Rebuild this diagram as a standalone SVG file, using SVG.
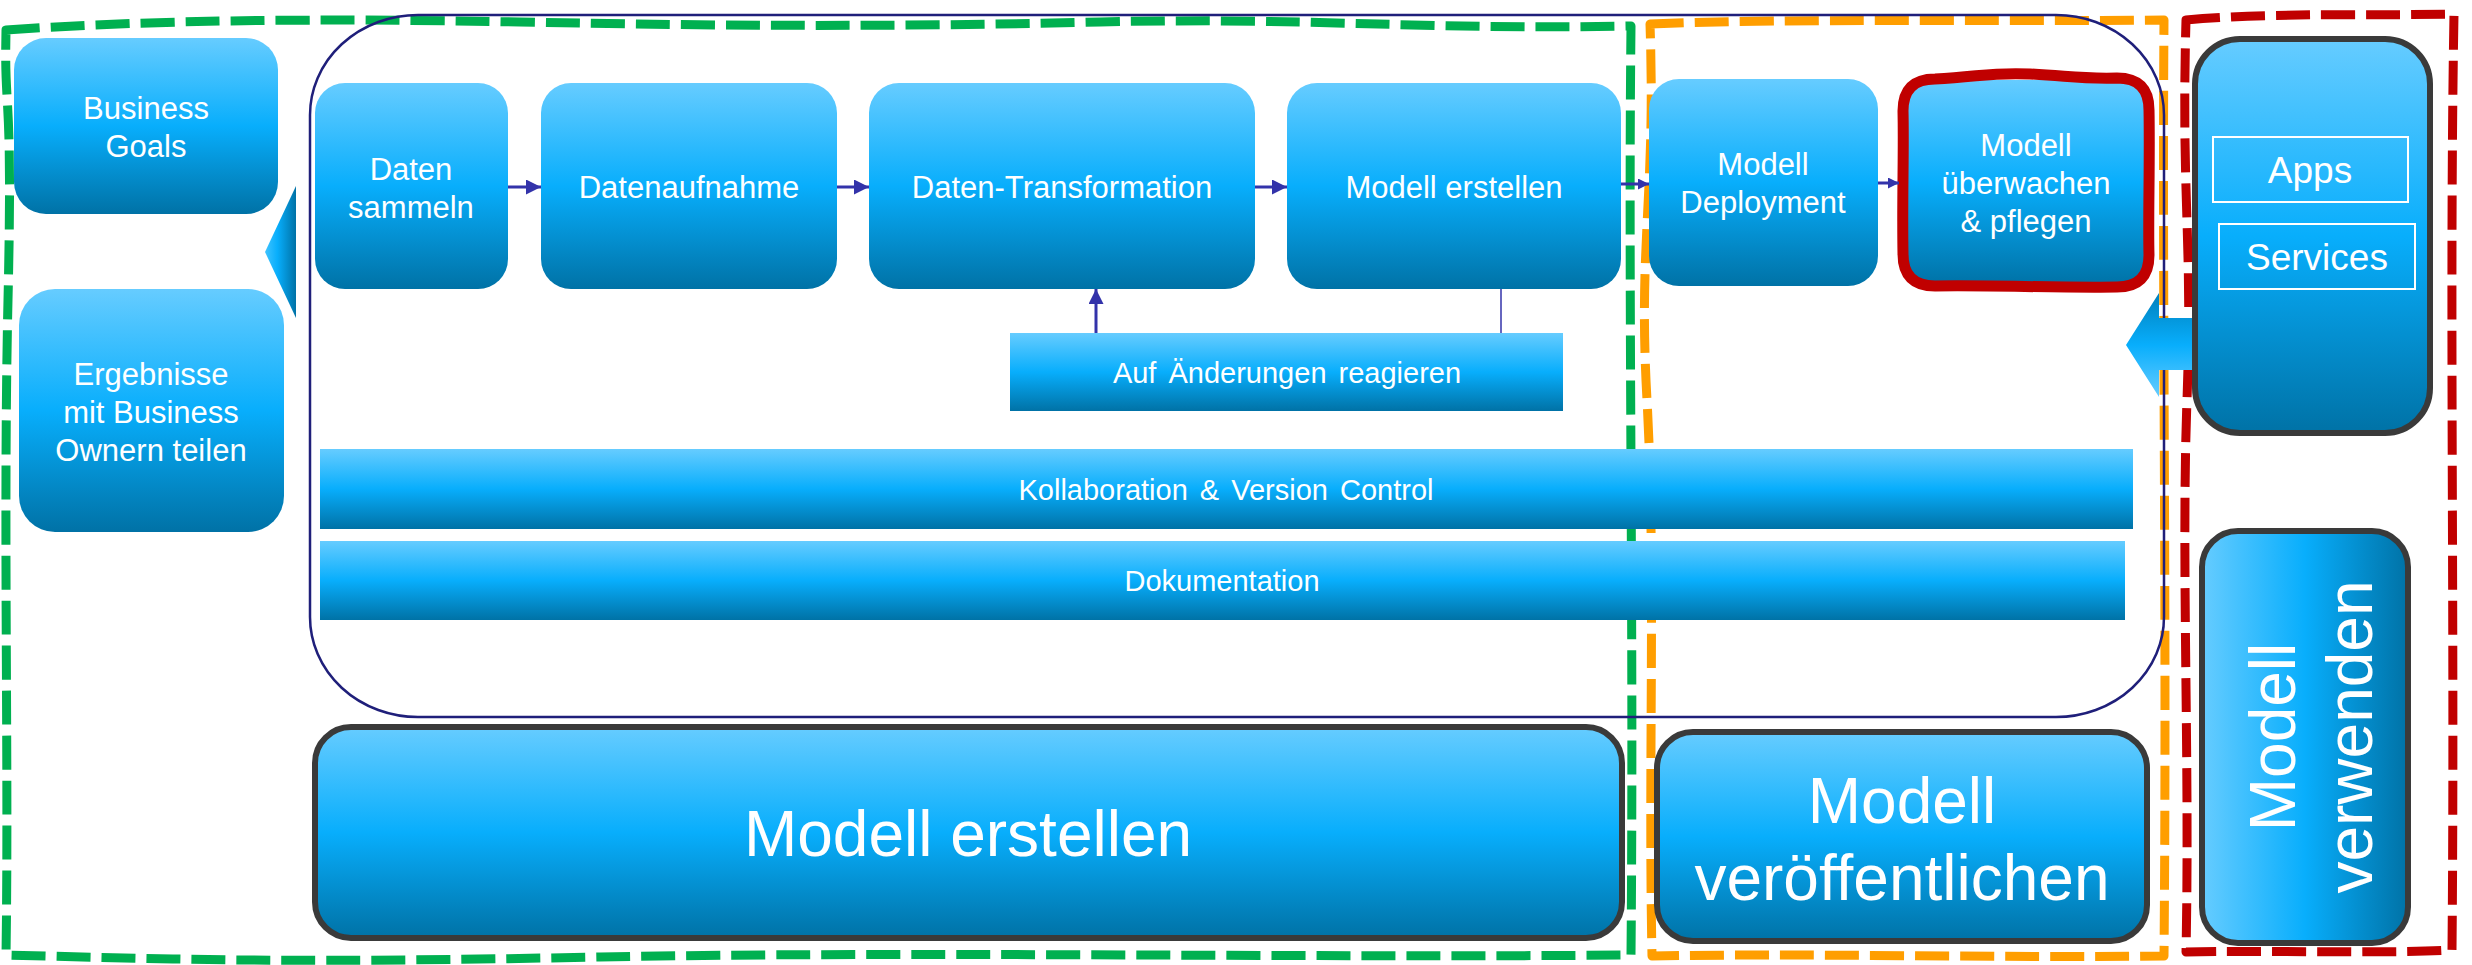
<svg xmlns="http://www.w3.org/2000/svg" width="2472" height="965" viewBox="0 0 2472 965">
<defs>
<linearGradient id="gv" x1="0" y1="0" x2="0" y2="1">
<stop offset="0" stop-color="#66CCFF"/>
<stop offset="0.5" stop-color="#08AEFC"/>
<stop offset="1" stop-color="#0072A6"/>
</linearGradient>
<linearGradient id="gh" x1="0" y1="0" x2="1" y2="0">
<stop offset="0" stop-color="#66CCFF"/>
<stop offset="0.5" stop-color="#08AEFC"/>
<stop offset="1" stop-color="#0072A6"/>
</linearGradient>
<linearGradient id="gtri" x1="0" y1="0" x2="1" y2="0">
<stop offset="0" stop-color="#40C4FF"/>
<stop offset="0.4" stop-color="#08AEFC"/>
<stop offset="1" stop-color="#0072A6"/>
</linearGradient>
<linearGradient id="garr" x1="0" y1="0" x2="0" y2="1">
<stop offset="0" stop-color="#0080BC"/>
<stop offset="0.5" stop-color="#08AEFC"/>
<stop offset="1" stop-color="#66CCFF"/>
</linearGradient>
<marker id="ah" viewBox="0 0 10 10" refX="10" refY="5" markerWidth="15" markerHeight="15" orient="auto" markerUnits="userSpaceOnUse">
<path d="M0,0 L10,5 L0,10 Z" fill="#3333AA"/>
</marker>
<marker id="ahs" viewBox="0 0 10 10" refX="10" refY="5" markerWidth="11" markerHeight="11" orient="auto" markerUnits="userSpaceOnUse">
<path d="M0,0 L10,5 L0,10 Z" fill="#3333AA"/>
</marker>
<style>
.box{fill:url(#gv);}
.dk{fill:url(#gv);stroke:#3A3A3A;stroke-width:6;}
.t{font-family:"Liberation Sans",Arial,sans-serif;fill:#FFFFFF;text-anchor:middle;}
.s31{font-size:31px;}
.s29{font-size:29px;}
.s36{font-size:37px;}
.s64{font-size:64px;}
.dash{fill:none;stroke-width:9;stroke-dasharray:34 11;stroke-linejoin:round;}
.conn{stroke:#3333AA;stroke-width:3;fill:none;}
</style>
</defs>

<g id="frames">
<path class="dash" stroke="#00B050" d="M6,30 C150,20 320,18 520,22 S 900,27 1100,22 S 1420,30 1631,26 C1628,300 1634,620 1631,955 C1300,958 900,951 600,957 S 200,960 6,955 C9,760 3,520 8,300 S 4,120 6,30 Z"/>
<path class="dash" stroke="#FF9E00" d="M1650,24 C1800,18 1980,22 2164,20 C2162,300 2167,620 2164,956 C2000,958 1800,953 1652,956 C1648,760 1656,560 1647,400 S 1656,200 1650,24 Z"/>
<path class="dash" stroke="#C00000" d="M2186,20 C2280,12 2370,16 2454,14 C2449,300 2455,620 2452,950 C2380,954 2260,950 2186,952 C2190,760 2181,560 2187,400 S 2181,200 2186,20 Z"/>
</g>

<g id="container">
<rect x="310" y="15" width="1854" height="702" rx="108" ry="100" fill="none" stroke="#1F1F7A" stroke-width="2.5"/>
</g>

<g id="business-goals">
<rect class="box" x="14" y="38" width="264" height="176" rx="32"/>
<text class="t s31" x="146" y="119">Business</text>
<text class="t s31" x="146" y="157">Goals</text>
</g>

<g id="ergebnisse">
<rect class="box" x="19" y="289" width="265" height="243" rx="36"/>
<text class="t s31" x="151" y="385">Ergebnisse</text>
<text class="t s31" x="151" y="423">mit Business</text>
<text class="t s31" x="151" y="461">Ownern teilen</text>
</g>

<g id="left-arrow">
<polygon points="296,186 265,252 296,318" fill="url(#gtri)"/>
</g>

<g id="daten-sammeln">
<rect class="box" x="315" y="83" width="193" height="206" rx="30"/>
<text class="t s31" x="411" y="180">Daten</text>
<text class="t s31" x="411" y="218">sammeln</text>
</g>

<g id="datenaufnahme">
<rect class="box" x="541" y="83" width="296" height="206" rx="30"/>
<text class="t s31" x="689" y="198">Datenaufnahme</text>
</g>

<g id="daten-transformation">
<rect class="box" x="869" y="83" width="386" height="206" rx="30"/>
<text class="t s31" x="1062" y="198">Daten-Transformation</text>
</g>

<g id="modell-erstellen-step">
<rect class="box" x="1287" y="83" width="334" height="206" rx="30"/>
<text class="t s31" x="1454" y="198">Modell erstellen</text>
</g>

<g id="modell-deployment">
<rect class="box" x="1649" y="79" width="229" height="207" rx="30"/>
<text class="t s31" x="1763" y="175">Modell</text>
<text class="t s31" x="1763" y="213">Deployment</text>
</g>

<g id="modell-ueberwachen">
<rect class="box" x="1905" y="80" width="242" height="205" rx="30"/>
<path d="M1935,79 C1980,77 1990,72 2030,74 S 2080,79 2117,78 Q2149,78 2149,110 C2150,160 2148,220 2149,255 Q2149,287 2117,287 C2060,288 1990,285 1935,286 Q1903,286 1903,254 C1902,200 1904,150 1903,111 Q1903,79 1935,79 Z" fill="none" stroke="#C00000" stroke-width="11"/>
<text class="t s31" x="2026" y="156">Modell</text>
<text class="t s31" x="2026" y="194">überwachen</text>
<text class="t s31" x="2026" y="232">&amp; pflegen</text>
</g>

<g id="right-arrow">
<polygon points="2126,345 2159,293 2159,318 2200,318 2200,370 2159,370 2159,397" fill="url(#garr)"/>
</g>

<g id="apps-services">
<rect class="dk" x="2195" y="39" width="235" height="394" rx="45"/>
<rect x="2213" y="137" width="195" height="65" fill="none" stroke="#FFFFFF" stroke-width="2"/>
<text class="t s36" x="2310" y="183">Apps</text>
<rect x="2219" y="224" width="196" height="65" fill="none" stroke="#FFFFFF" stroke-width="2"/>
<text class="t s36" x="2317" y="270">Services</text>
</g>

<g id="auf-aenderungen">
<rect class="box" x="1010" y="333" width="553" height="78"/>
<text class="t s29" x="1287" y="383" word-spacing="4">Auf Änderungen reagieren</text>
</g>

<g id="kollaboration">
<rect class="box" x="320" y="449" width="1813" height="80"/>
<text class="t s29" x="1226" y="500" word-spacing="4">Kollaboration &amp; Version Control</text>
</g>

<g id="dokumentation">
<rect class="box" x="320" y="541" width="1805" height="79"/>
<text class="t s29" x="1222" y="591">Dokumentation</text>
</g>

<g id="phase-erstellen">
<rect class="dk" x="315" y="727" width="1307" height="211" rx="36"/>
<text class="t s64" x="968" y="856">Modell erstellen</text>
</g>

<g id="phase-veroeffentlichen">
<rect class="dk" x="1657" y="732" width="490" height="209" rx="36"/>
<text class="t s64" x="1902" y="823">Modell</text>
<text class="t s64" x="1902" y="900">veröffentlichen</text>
</g>

<g id="phase-verwenden">
<rect x="2202" y="531" width="206" height="412" rx="36" fill="url(#gh)" stroke="#3A3A3A" stroke-width="6"/>
<text class="t s64" transform="translate(2305,737) rotate(-90)"><tspan x="0" y="-10">Modell</tspan><tspan x="0" y="67">verwenden</tspan></text>
</g>

<g id="connectors">
<line class="conn" x1="508" y1="187" x2="541" y2="187" marker-end="url(#ah)"/>
<line class="conn" x1="837" y1="187" x2="869" y2="187" marker-end="url(#ah)"/>
<line class="conn" x1="1255" y1="187" x2="1287" y2="187" marker-end="url(#ah)"/>
<line class="conn" x1="1621" y1="184" x2="1649" y2="184" marker-end="url(#ahs)"/>
<line class="conn" x1="1878" y1="183" x2="1899" y2="183" marker-end="url(#ahs)"/>
<line class="conn" x1="1096" y1="333" x2="1096" y2="289" marker-end="url(#ah)"/>
<line stroke="#3333AA" stroke-width="1.5" x1="1501" y1="289" x2="1501" y2="333"/>
</g>
</svg>
